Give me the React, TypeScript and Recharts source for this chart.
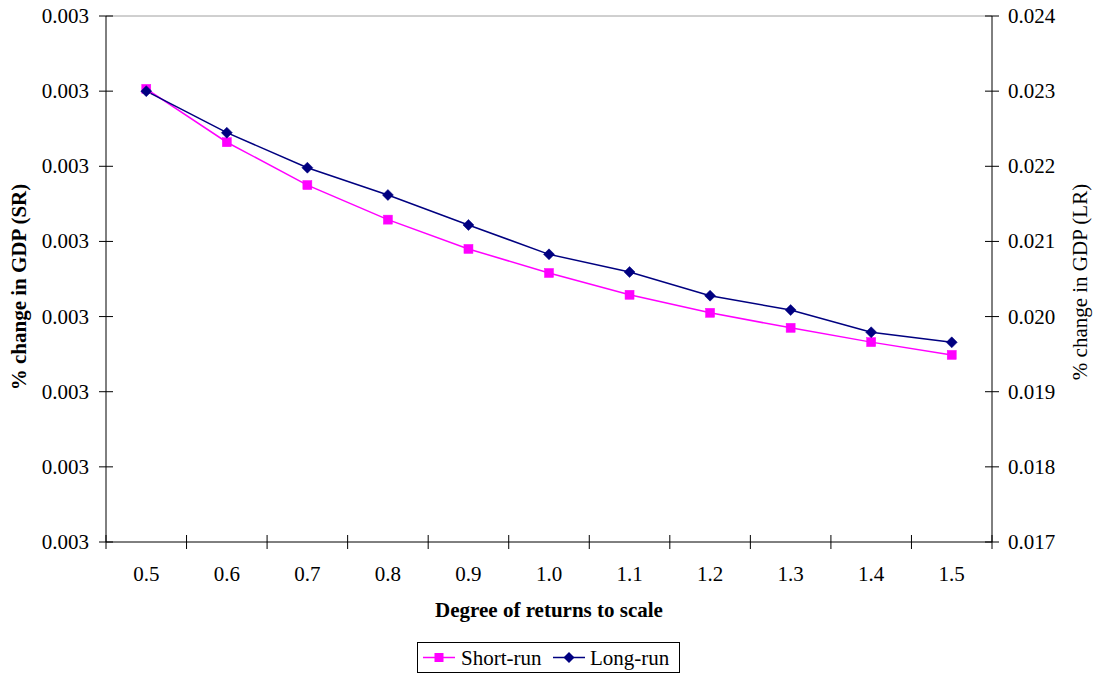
import React from 'react';
import { LineChart, Line, XAxis, YAxis, ReferenceLine, Legend, Label } from 'recharts';

const categories = [0.5, 0.6, 0.7, 0.8, 0.9, 1.0, 1.1, 1.2, 1.3, 1.4, 1.5];
const shortRun = [0.0030203, 0.0030132, 0.0030075, 0.0030029, 0.002999, 0.0029958, 0.0029929, 0.0029905, 0.0029885, 0.0029866, 0.0029849];
const longRun = [0.023, 0.022447, 0.021981, 0.021618, 0.021219, 0.020828, 0.020593, 0.020278, 0.020087, 0.019791, 0.019657];
const xCenterTicks = [0.5, 0.6, 0.7, 0.8, 0.9, 1.0, 1.1, 1.2, 1.3, 1.4, 1.5];
const xBoundaryTicks = [0.45, 0.55, 0.65, 0.75, 0.85, 0.95, 1.05, 1.15, 1.25, 1.35, 1.45, 1.55];
const leftTicks = [0.00296, 0.00297, 0.00298, 0.00299, 0.003, 0.00301, 0.00302, 0.00303];
const rightTicks = [0.017, 0.018, 0.019, 0.02, 0.021, 0.022, 0.023, 0.024];

const data = categories.map((c, i) => ({ x: c, sr: shortRun[i], lr: longRun[i] }));
const allXTicks = [...xBoundaryTicks, ...xCenterTicks].sort((a, b) => a - b);
const isCenter = (v: number) => xCenterTicks.some((c) => Math.abs(c - v) < 1e-9);

const FONT = '"Liberation Serif", "Times New Roman", serif';
const SR_COLOR = '#FF00FF';
const LR_COLOR = '#000080';

const XTick = (props: any) => {
  const { x, y, payload } = props;
  const v = payload.value;
  if (isCenter(v)) {
    return (
      <text x={x} y={y + 39} textAnchor="middle" fontFamily={FONT} fontSize={21} fill="#000">
        {Number(v).toFixed(1)}
      </text>
    );
  }
  return <line x1={x} x2={x} y1={y - 7} y2={y + 7} stroke="#000" strokeWidth={1} />;
};

const LeftTick = (props: any) => {
  const { x, y, payload } = props;
  return (
    <g>
      <line x1={x - 7} x2={x + 7} y1={y} y2={y} stroke="#000" strokeWidth={1} />
      <text x={x - 17} y={y + 7} textAnchor="end" fontFamily={FONT} fontSize={21} fill="#000">
        {Number(payload.value).toFixed(3)}
      </text>
    </g>
  );
};

const RightTick = (props: any) => {
  const { x, y, payload } = props;
  return (
    <g>
      <line x1={x - 7} x2={x + 7} y1={y} y2={y} stroke="#000" strokeWidth={1} />
      <text x={x + 16} y={y + 7} textAnchor="start" fontFamily={FONT} fontSize={21} fill="#000">
        {Number(payload.value).toFixed(3)}
      </text>
    </g>
  );
};

const SquareDot = (props: any) => {
  const { cx, cy } = props;
  if (cx == null || cy == null) return null;
  return <rect x={cx - 4.5} y={cy - 4.5} width={9} height={9} fill={SR_COLOR} stroke={SR_COLOR} strokeWidth={0.5} />;
};

const DiamondDot = (props: any) => {
  const { cx, cy } = props;
  if (cx == null || cy == null) return null;
  return (
    <polygon
      points={`${cx},${cy - 5.5} ${cx + 5.5},${cy} ${cx},${cy + 5.5} ${cx - 5.5},${cy}`}
      fill={LR_COLOR}
      stroke={LR_COLOR}
      strokeWidth={0.5}
    />
  );
};

const LegendContent = () => (
  <svg width={263} height={31} style={{ display: 'block' }}>
    <rect x={0.5} y={0.5} width={262} height={30} fill="#fff" stroke="#000" strokeWidth={1} />
    <line x1={6} x2={38} y1={15.5} y2={15.5} stroke={SR_COLOR} strokeWidth={1.5} />
    <rect x={17.5} y={11} width={9} height={9} fill={SR_COLOR} />
    <text x={44} y={23} fontFamily={FONT} fontSize={21} fill="#000">Short-run</text>
    <line x1={136} x2={168} y1={15.5} y2={15.5} stroke={LR_COLOR} strokeWidth={1.5} />
    <polygon points="152,10 157.5,15.5 152,21 146.5,15.5" fill={LR_COLOR} />
    <text x={173} y={23} fontFamily={FONT} fontSize={21} fill="#000">Long-run</text>
  </svg>
);

export default function App() {
  return (
    <div style={{ position: 'absolute', left: 0, top: 0, width: 1094, height: 675, background: '#fff' }}>
      <LineChart width={1094} height={675} data={data} margin={{ top: 16, right: 0, bottom: 42, left: 0 }}>
        <XAxis
          dataKey="x"
          type="number"
          domain={[0.45, 1.55]}
          ticks={allXTicks}
          interval={0}
          allowDataOverflow
          tickLine={false}
          tickSize={0}
          tickMargin={0}
          tick={<XTick />}
          height={60}
          axisLine={{ stroke: '#000', strokeWidth: 1 }}
        >
          <Label
            content={() => (
              <text x={549} y={617} textAnchor="middle" fontFamily={FONT} fontSize={21} fontWeight="bold" fill="#000">
                Degree of returns to scale
              </text>
            )}
          />
        </XAxis>
        <YAxis
          yAxisId="left"
          orientation="left"
          width={106}
          domain={[0.00296, 0.00303]}
          ticks={leftTicks}
          interval={0}
          allowDataOverflow
          tickLine={false}
          tickSize={0}
          tickMargin={0}
          tick={<LeftTick />}
          axisLine={{ stroke: '#000', strokeWidth: 1 }}
        >
          <Label
            content={() => (
              <text
                x={26}
                y={287}
                transform="rotate(-90 26 287)"
                textAnchor="middle"
                fontFamily={FONT}
                fontSize={21}
                fontWeight="bold"
                fill="#000"
              >
                % change in GDP (SR)
              </text>
            )}
          />
        </YAxis>
        <YAxis
          yAxisId="right"
          orientation="right"
          width={102}
          domain={[0.017, 0.024]}
          ticks={rightTicks}
          interval={0}
          allowDataOverflow
          tickLine={false}
          tickSize={0}
          tickMargin={0}
          tick={<RightTick />}
          axisLine={{ stroke: '#000', strokeWidth: 1 }}
        >
          <Label
            content={() => (
              <text
                x={1087}
                y={282}
                transform="rotate(-90 1087 282)"
                textAnchor="middle"
                fontFamily={FONT}
                fontSize={21}
                fill="#000"
              >
                % change in GDP (LR)
              </text>
            )}
          />
        </YAxis>
        <ReferenceLine yAxisId="left" y={0.00303} stroke="#a0a0a0" strokeWidth={1} />
        <Line
          yAxisId="left"
          dataKey="sr"
          name="Short-run"
          stroke={SR_COLOR}
          strokeWidth={1.5}
          dot={<SquareDot />}
          activeDot={false}
          isAnimationActive={false}
        />
        <Line
          yAxisId="right"
          dataKey="lr"
          name="Long-run"
          stroke={LR_COLOR}
          strokeWidth={1.5}
          dot={<DiamondDot />}
          activeDot={false}
          isAnimationActive={false}
        />
        <Legend
          content={<LegendContent />}
          wrapperStyle={{ position: 'absolute', left: 417, top: 642, width: 263, height: 31 }}
        />
      </LineChart>
    </div>
  );
}
